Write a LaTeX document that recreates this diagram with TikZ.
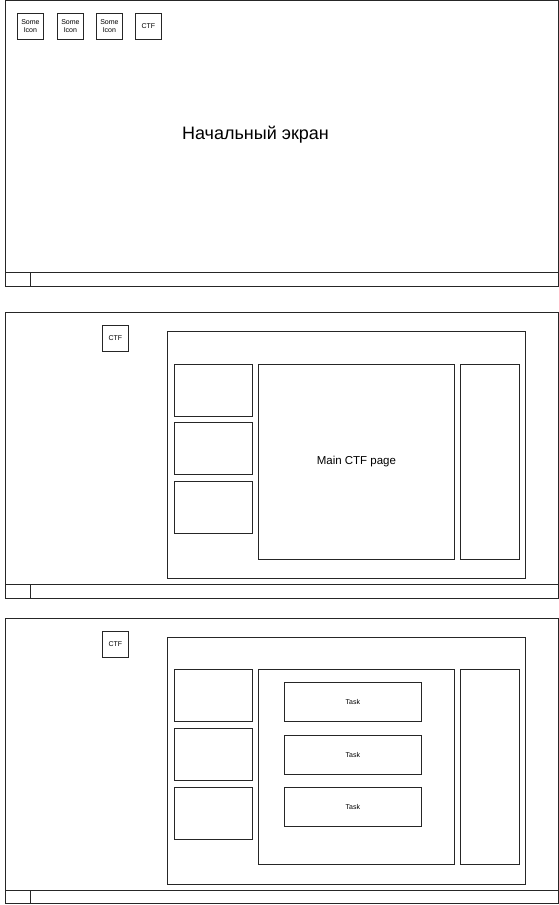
\documentclass[tikz,border=0pt]{standalone}
\usepackage{fontspec}
\setmainfont{Liberation Sans}
\begin{document}
\begin{tikzpicture}[x=1pt,y=-1pt,
  frame/.style={draw=black!85,line width=0.8pt},
  box/.style={draw=black!85,line width=0.8pt,inner sep=0pt,anchor=north west},
  icon/.style={box,minimum width=26pt,minimum height=26pt,font=\fontsize{7}{8}\selectfont,align=center},
  tiny/.style={font=\fontsize{7}{8}\selectfont}]
\useasboundingbox (0,0) rectangle (559,905);
% Panel 1
\draw[frame] (5,0.5) rectangle (558,286);
\draw[frame] (5,272) -- (558,272);
\draw[frame] (30,272) -- (30,286);
\node[icon] (i1) at (17,13) {Some\\Icon};
\node[icon] (i2) at (57,13) {Some\\Icon};
\node[icon] (i3) at (96,13) {Some\\Icon};
\node[icon] (i4) at (135,13) {CTF};
\node[font=\fontsize{18}{21}\selectfont] (title) at (255.5,135) {Начальный экран};
% Panel 2
\draw[frame] (5,312) rectangle (558,598);
\draw[frame] (5,584) -- (558,584);
\draw[frame] (30,584) -- (30,598);
\node[icon] (c2) at (102,325) {CTF};
\node[box,minimum width=358pt,minimum height=247pt] (f2) at (167,331) {};
\node[box,minimum width=78pt,minimum height=52pt] (l2a) at (174,364) {};
\node[box,minimum width=78pt,minimum height=52pt] (l2b) at (174,422) {};
\node[box,minimum width=78pt,minimum height=52pt] (l2c) at (174,481) {};
\node[box,minimum width=196pt,minimum height=195pt,font=\fontsize{11.5}{13}\selectfont] (m2) at (258,364) {Main CTF page};
\node[box,minimum width=59pt,minimum height=195pt] (r2) at (460,364) {};
% Panel 3
\draw[frame] (5,618) rectangle (558,903);
\draw[frame] (5,890) -- (558,890);
\draw[frame] (30,890) -- (30,903);
\node[icon] (c3) at (102,631) {CTF};
\node[box,minimum width=358pt,minimum height=247pt] (f3) at (167,637) {};
\node[box,minimum width=78pt,minimum height=52pt] (l3a) at (174,669) {};
\node[box,minimum width=78pt,minimum height=52pt] (l3b) at (174,728) {};
\node[box,minimum width=78pt,minimum height=52pt] (l3c) at (174,787) {};
\node[box,minimum width=196pt,minimum height=195pt] (m3) at (258,669) {};
\node[box,minimum width=59pt,minimum height=195pt] (r3) at (460,669) {};
\node[box,tiny,minimum width=137pt,minimum height=39pt] (t1) at (284,682) {Task};
\node[box,tiny,minimum width=137pt,minimum height=39pt] (t2) at (284,735) {Task};
\node[box,tiny,minimum width=137pt,minimum height=39pt] (t3) at (284,787) {Task};
\end{tikzpicture}
\end{document}
